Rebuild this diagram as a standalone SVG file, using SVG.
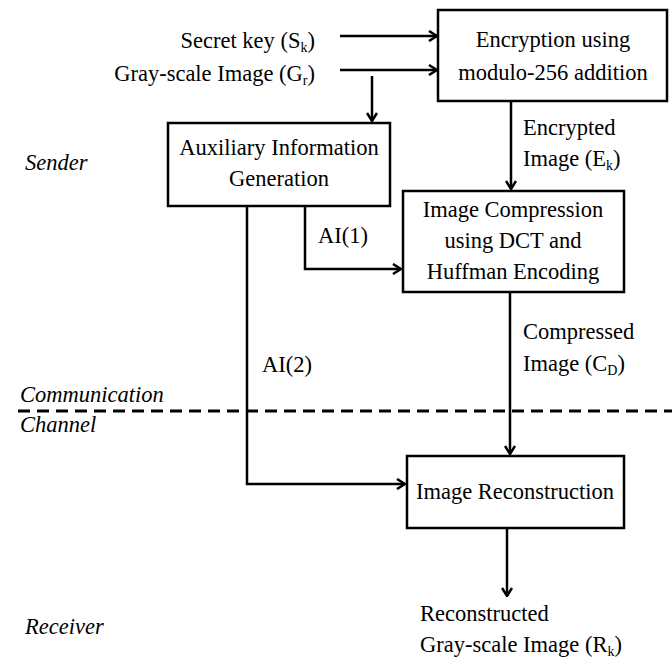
<svg xmlns="http://www.w3.org/2000/svg" width="672" height="660" viewBox="0 0 672 660">
<style>
text{font-family:"Liberation Serif","Times New Roman",serif;font-size:22.5px;fill:#000}
.it{font-style:italic}
.box{fill:#fff;stroke:#000;stroke-width:2.5}
.c{fill:none;stroke:#000;stroke-width:2.5}
.sub{font-size:14px}
</style>
<defs>
<marker id="ah" viewBox="0 0 12 12" refX="11" refY="6" markerWidth="12" markerHeight="12" markerUnits="userSpaceOnUse" orient="auto">
<polyline points="3,1 11,6 3,11" fill="none" stroke="#000" stroke-width="2.5"/>
</marker>
</defs>
<rect width="672" height="660" fill="#fff"/>
<g id="labels">
<text x="315" y="48" text-anchor="end">Secret key (S<tspan class="sub" dy="4">k</tspan><tspan dy="-4">)</tspan></text>
<text x="315" y="81" text-anchor="end">Gray-scale Image (G<tspan class="sub" dy="4">r</tspan><tspan dy="-4">)</tspan></text>
<text x="25" y="170" class="it">Sender</text>
<text x="20" y="402" class="it">Communication</text>
<text x="20" y="432" class="it">Channel</text>
<text x="25" y="634" class="it">Receiver</text>
<text x="523" y="135">Encrypted</text>
<text x="523" y="166">Image (E<tspan class="sub" dy="4">k</tspan><tspan dy="-4">)</tspan></text>
<text x="318" y="243">AI(1)</text>
<text x="262" y="372">AI(2)</text>
<text x="523" y="339">Compressed</text>
<text x="523" y="371">Image (C<tspan class="sub" dy="4">D</tspan><tspan dy="-4">)</tspan></text>
<text x="420" y="621">Reconstructed</text>
<text x="420" y="652">Gray-scale Image (R<tspan class="sub" dy="4">k</tspan><tspan dy="-4">)</tspan></text>
</g>
<g id="connectors">
<line class="c" x1="340" y1="36" x2="437" y2="36" marker-end="url(#ah)"/>
<line class="c" x1="340" y1="70" x2="437" y2="70" marker-end="url(#ah)"/>
<line class="c" x1="372" y1="76" x2="372" y2="121" marker-end="url(#ah)"/>
<line class="c" x1="511" y1="101" x2="511" y2="189" marker-end="url(#ah)"/>
<polyline class="c" points="305,206 305,269 401,269" marker-end="url(#ah)"/>
<polyline class="c" points="247,206 247,484 405,484" marker-end="url(#ah)"/>
<line class="c" x1="510" y1="292" x2="510" y2="454" marker-end="url(#ah)"/>
<line class="c" x1="507" y1="528" x2="507" y2="596" marker-end="url(#ah)"/>
<line x1="18" y1="411" x2="672" y2="411" stroke="#000" stroke-width="3" stroke-dasharray="12,7"/>
</g>
<g id="encryption">
<rect class="box" x="438" y="10" width="229" height="91"/>
<text x="553" y="47" text-anchor="middle">Encryption using</text>
<text x="553" y="80" text-anchor="middle">modulo-256 addition</text>
</g>
<g id="auxiliary">
<rect class="box" x="168" y="123" width="222" height="83"/>
<text x="279" y="155" text-anchor="middle">Auxiliary Information</text>
<text x="279" y="186" text-anchor="middle">Generation</text>
</g>
<g id="compression">
<rect class="box" x="403" y="191" width="221" height="101"/>
<text x="513" y="217" text-anchor="middle">Image Compression</text>
<text x="513" y="248" text-anchor="middle">using DCT and</text>
<text x="513" y="279" text-anchor="middle">Huffman Encoding</text>
</g>
<g id="reconstruction">
<rect class="box" x="407" y="456" width="217" height="72"/>
<text x="515" y="499" text-anchor="middle">Image Reconstruction</text>
</g>
</svg>
